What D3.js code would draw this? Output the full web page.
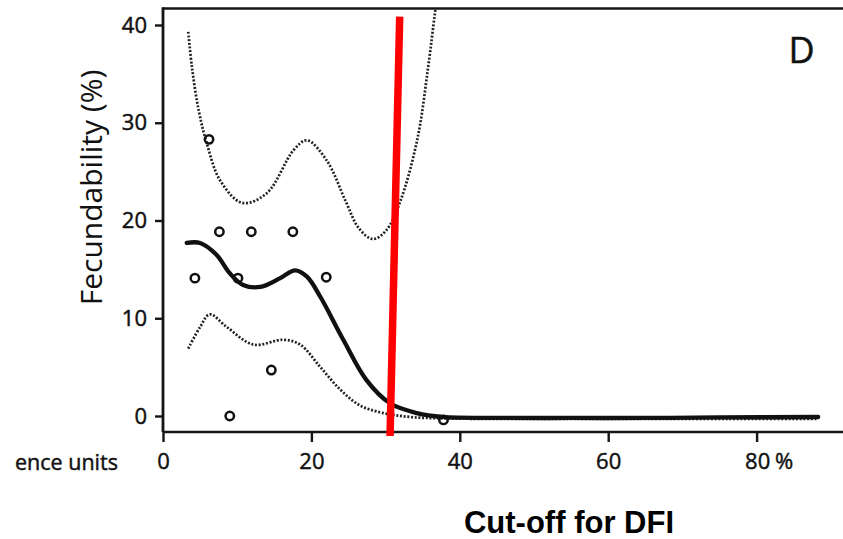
<!DOCTYPE html>
<html>
<head>
<meta charset="utf-8">
<script src="https://cdn.jsdelivr.net/npm/d3@7"></script>
<style>
  html, body { margin: 0; padding: 0; background: #fff; }
  svg { display: block; }
  text { font-family: "Open Sans", "DejaVu Sans", sans-serif; fill: #111; }
</style>
</head>
<body>
<svg id="chart" width="843" height="539"></svg>
<script>
// ---- data ----
const xTicks = [0, 20, 40, 60, 80];
const yTicks = [0, 10, 20, 30, 40];

const pointX = [4.3, 6.2, 7.6, 9.0, 10.1, 11.9, 14.6, 17.5, 22.0, 37.8];
const pointY = [14.1, 28.3, 18.85, 0, 14.1, 18.85, 4.7, 18.85, 14.2, -0.4];

const fitX = [3.2, 5.0, 7.2, 9.0, 10.8, 13.1, 15.8, 17.8, 19.4, 21.2, 24.3, 27.4, 30.6, 34.2, 37.7, 45, 55, 65, 75, 88.3];
const fitY = [17.7, 17.7, 16.5, 14.6, 13.4, 13.2, 14.1, 14.9, 14.25, 12.2, 7.8, 3.7, 1.3, 0.3, -0.1, -0.2, -0.2, -0.2, -0.15, -0.1];

const upperX = [3.4, 3.9, 4.8, 5.9, 7.7, 10.7, 14.0, 17.6, 19.4, 22.1, 24.6, 26.4, 28.3, 30.1, 32.0, 34.3, 35.7, 36.7, 37.5];
const upperY = [39.3, 35.7, 31.3, 27.9, 24.1, 21.8, 22.8, 27.2, 28.2, 26.1, 22.0, 19.2, 18.1, 19.0, 22.0, 28.4, 35.5, 41.5, 46];

const lowerX = [3.4, 5.0, 6.3, 8.6, 12.2, 16.2, 18.5, 21.2, 23.9, 26.5, 29.7, 33.3, 38, 50, 65, 80, 88.3];
const lowerY = [6.9, 9.1, 10.4, 9.1, 7.3, 7.8, 7.3, 5.0, 2.7, 1.1, 0.3, -0.1, -0.25, -0.3, -0.3, -0.3, -0.3];

const cutoffX = [31.9, 30.6];
const cutoffY = [40.86, -2.05];

const panelLabel = "D";
const yTitle = "Fecundability (%)";
const xTitle = "Cut-off for DFI";
const leftFragment = "ence units";

// ---- layout ----
const svg = d3.select("#chart");
const x = d3.scaleLinear().domain([0, 80]).range([163, 756.6]);
const y = d3.scaleLinear().domain([0, 40]).range([416, 25]);
const frameTop = 8.5, frameBottom = 432, frameLeft = 163, frameRight = 843;

svg.append("defs").append("clipPath").attr("id", "plotclip")
  .append("rect").attr("x", frameLeft).attr("y", frameTop)
  .attr("width", frameRight - frameLeft).attr("height", frameBottom - frameTop);

// frame lines
const axisColor = "#151515";
svg.append("line").attr("x1", frameLeft).attr("x2", frameRight)
  .attr("y1", frameTop).attr("y2", frameTop)
  .attr("stroke", axisColor).attr("stroke-width", 2.6);
svg.append("line").attr("x1", frameLeft).attr("x2", frameLeft)
  .attr("y1", frameTop - 1.3).attr("y2", frameBottom)
  .attr("stroke", axisColor).attr("stroke-width", 2.8);
svg.append("line").attr("x1", frameLeft).attr("x2", frameRight)
  .attr("y1", frameBottom).attr("y2", frameBottom)
  .attr("stroke", axisColor).attr("stroke-width", 2.6);

const thicken = sel => sel.attr("stroke", "#111").attr("stroke-width", 0.45);

// y axis
const yAxis = d3.axisLeft(y).tickValues(yTicks).tickSize(8).tickPadding(8);
const gy = svg.append("g").attr("transform", `translate(${frameLeft},0)`).call(yAxis);
gy.select(".domain").remove();
gy.selectAll(".tick line").attr("stroke", axisColor).attr("stroke-width", 2.4);
gy.selectAll(".tick text").attr("font-size", 22).attr("fill", "#111")
  .attr("font-family", "'Open Sans', sans-serif").call(thicken);

// x axis
const xAxis = d3.axisBottom(x).tickValues(xTicks).tickSize(10).tickPadding(11)
  .tickFormat(d => d === 80 ? "80 %" : String(d));
const gx = svg.append("g").attr("transform", `translate(0,${frameBottom})`).call(xAxis);
gx.select(".domain").remove();
gx.selectAll(".tick line").attr("stroke", axisColor).attr("stroke-width", 2.4);
gx.selectAll(".tick text").attr("font-size", 22).attr("fill", "#111")
  .attr("font-family", "'Open Sans', sans-serif").call(thicken);
gx.selectAll(".tick text").filter(d => d === 80)
  .attr("text-anchor", "start").attr("x", -12).attr("word-spacing", "-1px");

// curves
const plot = svg.append("g").attr("clip-path", "url(#plotclip)");
const line = d3.line().x(d => x(d[0])).y(d => y(d[1])).curve(d3.curveCatmullRom.alpha(0.5));

plot.append("path").datum(d3.zip(upperX, upperY)).attr("d", line)
  .attr("fill", "none").attr("stroke", "#222").attr("stroke-width", 2.7)
  .attr("stroke-dasharray", "2 1.7");
plot.append("path").datum(d3.zip(lowerX, lowerY)).attr("d", line)
  .attr("fill", "none").attr("stroke", "#222").attr("stroke-width", 2.7)
  .attr("stroke-dasharray", "2 1.7");
plot.append("path").datum(d3.zip(fitX, fitY)).attr("d", line)
  .attr("fill", "none").attr("stroke", "#111").attr("stroke-width", 4.3)
  .attr("stroke-linecap", "round");

// points
plot.selectAll("circle.pt").data(d3.zip(pointX, pointY)).join("circle")
  .attr("class", "pt")
  .attr("cx", d => x(d[0])).attr("cy", d => y(d[1])).attr("r", 4.2)
  .attr("fill", "none").attr("stroke", "#111").attr("stroke-width", 2.5);

// red cut-off line
svg.append("line")
  .attr("x1", x(cutoffX[0])).attr("y1", y(cutoffY[0]))
  .attr("x2", x(cutoffX[1])).attr("y2", y(cutoffY[1]))
  .attr("stroke", "#ff0000").attr("stroke-width", 7.5);

// texts
svg.append("text").attr("x", 788.5).attr("y", 63.3).attr("font-size", 36)
  .call(thicken).text(panelLabel);
svg.append("text").attr("transform", "translate(102,187.5) rotate(-90)")
  .attr("text-anchor", "middle").attr("font-size", 30).attr("fill", "#222")
  .text(yTitle);
svg.append("text").attr("x", 15).attr("y", 470).attr("font-size", 21.5)
  .call(thicken).text(leftFragment);
svg.append("text").attr("x", 569).attr("y", 532.5).attr("text-anchor", "middle")
  .attr("font-size", 31).attr("font-weight", "bold")
  .style("font-family", "'Liberation Sans', Arial, sans-serif").style("fill", "#000")
  .text(xTitle);
</script>
</body>
</html>
